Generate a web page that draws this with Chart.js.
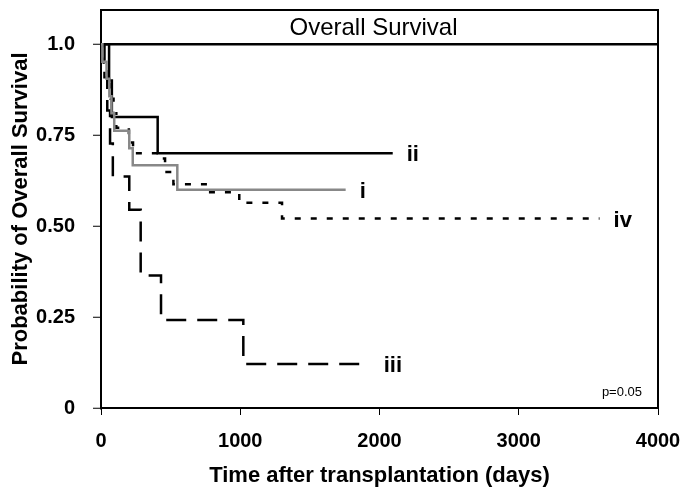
<!DOCTYPE html>
<html>
<head>
<meta charset="utf-8">
<script src="https://cdn.jsdelivr.net/npm/chart.js@4.4.1/dist/chart.umd.min.js"></script>
<style>
    html, body { margin: 0; padding: 0; background: #fff; }
    #wrap { width: 688px; height: 497px; }
</style>
</head>
<body>
<div id="wrap"><canvas id="survChart"></canvas></div>
<script>
// Kaplan-Meier curves (days, survival probability)
var daysI = [0, 10, 40, 60, 75, 95, 203, 228, 548, 1757];
var survI = [1, 0.952, 0.905, 0.857, 0.81, 0.762, 0.714, 0.667, 0.6, 0.6];

var daysII = [0, 58, 78, 407, 2095];
var survII = [1, 0.9, 0.8, 0.7, 0.7];

var daysIII = [0, 25, 45, 65, 85, 203, 285, 431, 1022, 1930];
var survIII = [1, 0.909, 0.818, 0.727, 0.636, 0.545, 0.364, 0.242, 0.121, 0.121];

var daysIV = [0, 20, 45, 70, 90, 110, 200, 230, 430, 460, 520, 770, 993, 1300, 3580];
var survIV = [1, 0.95, 0.9, 0.85, 0.81, 0.77, 0.73, 0.70, 0.686, 0.649, 0.615, 0.593, 0.564, 0.521, 0.521];

var groupLabels = ['i', 'ii', 'iii', 'iv'];
var yTickValues = [0, 0.25, 0.5, 0.75, 1];
var yTickLabels = ['0', '0.25', '0.50', '0.75', '1.0'];
var xTickValues = [0, 1000, 2000, 3000, 4000];

function toPoints(xs, ys) {
    return xs.map(function (x, i) { return { x: x, y: ys[i] }; });
}

var boldFont = { family: 'Liberation Sans, Arial, sans-serif', size: 20, weight: 'bold' };
var titleFont = { family: 'Liberation Sans, Arial, sans-serif', size: 22, weight: 'bold' };

// frame, boxed title, group labels and p value
var decorations = {
    id: 'decorations',
    afterDatasetsDraw: function (chart) {
        var ctx = chart.ctx;
        var area = chart.chartArea;
        var xs = chart.scales.x, ys = chart.scales.y;
        ctx.save();
        ctx.strokeStyle = '#000';
        ctx.lineWidth = 2;
        ctx.beginPath();
        ctx.moveTo(area.left, area.top);
        ctx.lineTo(area.right, area.top);
        ctx.lineTo(area.right, area.bottom);
        ctx.stroke();

        ctx.fillStyle = '#000';
        ctx.textAlign = 'center';
        ctx.textBaseline = 'middle';
        ctx.font = '24px Liberation Sans, Arial, sans-serif';
        ctx.fillText('Overall Survival', (area.left + area.right) / 2 - 6, (area.top + ys.getPixelForValue(1)) / 2 + 1);

        ctx.font = 'bold 22px Liberation Sans, Arial, sans-serif';
        ctx.textAlign = 'left';
        chart.data.datasets.forEach(function (ds, i) {
            var last = ds.data[ds.data.length - 1];
            ctx.fillText(groupLabels[i], xs.getPixelForValue(last.x) + 14, ys.getPixelForValue(last.y) + 2);
        });

        ctx.font = '13px Liberation Sans, Arial, sans-serif';
        ctx.textAlign = 'right';
        ctx.fillText('p=0.05', area.right - 16, area.bottom - 16);
        ctx.restore();
    }
};

var ctx = document.getElementById('survChart').getContext('2d');
var survChart = new Chart(ctx, {
    type: 'line',
    data: {
        datasets: [
            { data: toPoints(daysI, survI), borderColor: '#888888', borderWidth: 2.5 },
            { data: toPoints(daysII, survII), borderColor: '#000000', borderWidth: 2.5 },
            { data: toPoints(daysIII, survIII), borderColor: '#000000', borderWidth: 2.5, borderDash: [20, 11] },
            { data: toPoints(daysIV, survIV), borderColor: '#000000', borderWidth: 2.5, borderDash: [6, 10] }
        ]
    },
    options: {
        responsive: true,
        maintainAspectRatio: false,
        animation: false,
        layout: { padding: { left: 0, right: 30, top: 10, bottom: 0 } },
        elements: {
            point: { radius: 0 },
            line: { stepped: true, tension: 0, fill: false, borderCapStyle: 'butt' }
        },
        plugins: {
            legend: { display: false },
            tooltip: { enabled: false }
        },
        scales: {
            x: {
                type: 'linear',
                min: 0,
                max: 4000,
                afterBuildTicks: function (scale) {
                    scale.ticks = xTickValues.map(function (v) { return { value: v }; });
                },
                afterFit: function (scale) {
                    scale.height = 89;
                    scale.paddingLeft = 0;
                    scale.paddingRight = 0;
                },
                ticks: {
                    color: '#000', font: boldFont, padding: 14, maxRotation: 0,
                    callback: function (value) { return String(value); }
                },
                grid: { drawOnChartArea: false, tickLength: 7, tickColor: '#000', tickWidth: 1 },
                border: { color: '#000', width: 2 },
                title: {
                    display: true,
                    text: 'Time after transplantation (days)',
                    color: '#000',
                    font: titleFont,
                    padding: { top: 0, bottom: 8 }
                }
            },
            y: {
                type: 'linear',
                min: 0,
                max: 1.094,
                afterBuildTicks: function (scale) {
                    scale.ticks = yTickValues.map(function (v) { return { value: v }; });
                },
                afterFit: function (scale) {
                    scale.width = 101;
                    scale.paddingTop = 0;
                    scale.paddingBottom = 0;
                },
                ticks: {
                    color: '#000',
                    font: boldFont,
                    padding: 18,
                    callback: function (value) {
                        var idx = yTickValues.indexOf(value);
                        return idx >= 0 ? yTickLabels[idx] : '';
                    }
                },
                grid: {
                    color: function (c) { return c.tick && c.tick.value === 1 ? '#000' : 'rgba(0,0,0,0)'; },
                    lineWidth: 2.5,
                    tickLength: 8,
                    tickColor: '#000',
                    tickWidth: 1
                },
                border: { color: '#000', width: 2 },
                title: {
                    display: true,
                    text: 'Probability of Overall Survival',
                    color: '#000',
                    font: titleFont,
                    padding: { top: 8, bottom: 0 }
                }
            }
        }
    },
    plugins: [decorations]
});
</script>
</body>
</html>
